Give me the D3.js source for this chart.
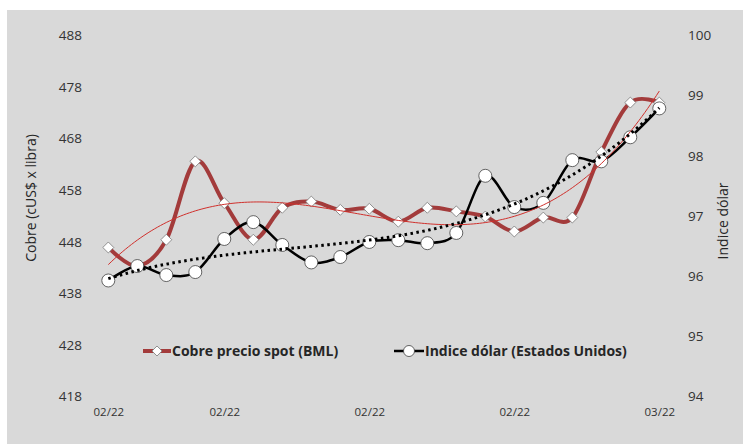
<!DOCTYPE html>
<html>
<head>
<meta charset="utf-8">
<script src="https://cdn.jsdelivr.net/npm/d3@7"></script>
<style>
  body { margin: 0; background: #fff; }
  text { font-family: "Open Sans", sans-serif; }
</style>
</head>
<body>
<div id="chart"></div>
<script>
// Daily values, Feb 2022
const cobre = [446.8, 443.2, 448.3, 463.5, 455.4, 448.3, 454.5, 455.7, 454.1, 454.3,
               451.8, 454.5, 453.8, 452.8, 449.9, 452.6, 452.6, 465.3, 474.9, 474.9];
const dolar = [95.92, 96.16, 96.01, 96.06, 96.61, 96.89, 96.51, 96.22, 96.31, 96.56,
               96.59, 96.54, 96.71, 97.66, 97.14, 97.21, 97.92, 97.90, 98.30, 98.78];
const xTickIdx = [0, 4, 9, 14, 19];
const xTickLabels = ["02/22", "02/22", "02/22", "02/22", "03/22"];
const leftTicks = [418, 428, 438, 448, 458, 468, 478, 488];
const rightTicks = [94, 95, 96, 97, 98, 99, 100];

const W = 743, H = 444;
const svg = d3.select("#chart").append("svg").attr("width", W).attr("height", H);

// chart area background
svg.append("rect").attr("x", 7).attr("y", 10).attr("width", W - 7).attr("height", H - 10)
    .attr("fill", "#d9d9d9");

const idx = d3.range(cobre.length);
const x = d3.scalePoint().domain(idx).range([108.3, 659.3]);
const yL = d3.scaleLinear().domain([418, 488]).range([396, 35]);
const yR = d3.scaleLinear().domain([94, 100]).range([396, 35]);

// least squares polynomial trend (like the spreadsheet trendline)
function polyFit(ys, order) {
    const n = order + 1;
    const A = d3.range(n).map(() => new Array(n + 1).fill(0));
    ys.forEach((y, t) => {
        const tt = t + 1;
        for (let i = 0; i < n; i++) {
            for (let j = 0; j < n; j++) A[i][j] += Math.pow(tt, i + j);
            A[i][n] += y * Math.pow(tt, i);
        }
    });
    for (let c = 0; c < n; c++) {
        let p = c;
        for (let r = c + 1; r < n; r++) if (Math.abs(A[r][c]) > Math.abs(A[p][c])) p = r;
        [A[c], A[p]] = [A[p], A[c]];
        for (let r = 0; r < n; r++) {
            if (r === c) continue;
            const f = A[r][c] / A[c][c];
            for (let k = c; k <= n; k++) A[r][k] -= f * A[c][k];
        }
    }
    const coef = A.map((row, i) => row[n] / row[i]);
    return t => coef.reduce((s, c, i) => s + c * Math.pow(t + 1, i), 0);
}

// axes
const axL = svg.append("g").attr("transform", "translate(82,0)")
    .call(d3.axisLeft(yL).tickValues(leftTicks).tickSize(0).tickPadding(0)
        .tickFormat(d3.format("d")));
const axR = svg.append("g").attr("transform", "translate(688,0)")
    .call(d3.axisRight(yR).tickValues(rightTicks).tickSize(0).tickPadding(0)
        .tickFormat(d3.format("d")));
const axB = svg.append("g").attr("transform", "translate(0,0)")
    .call(d3.axisBottom(x).tickValues(xTickIdx).tickSize(0).tickPadding(0)
        .tickFormat((d, i) => xTickLabels[i]));
[axL, axR, axB].forEach(g => {
    g.select(".domain").remove();
    g.selectAll("text").style("font-family", "Open Sans").attr("fill", "#333");
});
axL.selectAll("text").style("font-size", "13.5px").attr("dy", "0.35em");
axR.selectAll("text").style("font-size", "13.5px").attr("dy", "0.35em");
axB.selectAll("text").style("font-size", "11.5px").attr("y", 412).attr("dy", "0.35em");

// axis titles
svg.append("text").attr("transform", "translate(31,198) rotate(-90)")
    .attr("text-anchor", "middle").attr("dy", "0.35em")
    .style("font-size", "14px").attr("fill", "#262626").text("Cobre (cUS$ x libra)");
svg.append("text").attr("transform", "translate(723,221) rotate(-90)")
    .attr("text-anchor", "middle").attr("dy", "0.35em")
    .style("font-size", "14px").attr("fill", "#262626").text("Indice dólar");

const cobreColor = "#a33b3b";

// copper series
svg.append("path").datum(idx)
    .attr("fill", "none").attr("stroke", cobreColor).attr("stroke-width", 4)
    .attr("d", d3.line().x(i => x(i)).y(i => yL(cobre[i])).curve(d3.curveCardinal.tension(0)));
svg.selectAll(".dia").data(idx).enter().append("path")
    .attr("class", "dia")
    .attr("transform", i => `translate(${x(i)},${yL(cobre[i])}) rotate(45)`)
    .attr("d", d3.symbol(d3.symbolSquare, 60))
    .attr("fill", "#fff").attr("stroke", "#808080").attr("stroke-width", 0.8);

// dollar series
svg.append("path").datum(idx)
    .attr("fill", "none").attr("stroke", "#000").attr("stroke-width", 2.5)
    .attr("d", d3.line().x(i => x(i)).y(i => yR(dolar[i])).curve(d3.curveCardinal.tension(0)));
svg.selectAll(".dot").data(idx).enter().append("circle")
    .attr("class", "dot")
    .attr("cx", i => x(i)).attr("cy", i => yR(dolar[i])).attr("r", 6.5)
    .attr("fill", "#fff").attr("stroke", "#404040").attr("stroke-width", 0.8);

// trend lines
const fine = d3.range(0, cobre.length - 1 + 0.001, 0.1);
const xc = d3.scaleLinear().domain([0, cobre.length - 1]).range(x.range());
const trendC = polyFit(cobre, 3);
const trendD = polyFit(dolar, 3);
svg.append("path").datum(fine)
    .attr("fill", "none").attr("stroke", "#d0302c").attr("stroke-width", 1)
    .attr("d", d3.line().x(t => xc(t)).y(t => yL(trendC(t))));
svg.append("path").datum(fine)
    .attr("fill", "none").attr("stroke", "#000").attr("stroke-width", 3)
    .attr("stroke-dasharray", "2.5 3.5")
    .attr("d", d3.line().x(t => xc(t)).y(t => yR(trendD(t))));

// legend
const lg = svg.append("g");
lg.append("line").attr("x1", 143).attr("x2", 171).attr("y1", 351).attr("y2", 351)
    .attr("stroke", cobreColor).attr("stroke-width", 4);
lg.append("path").attr("transform", "translate(157,351) rotate(45)")
    .attr("d", d3.symbol(d3.symbolSquare, 50))
    .attr("fill", "#fff").attr("stroke", "#808080").attr("stroke-width", 0.8);
lg.append("text").attr("x", 172).attr("y", 351).attr("dy", "0.35em")
    .style("font-size", "14px").style("font-weight", "bold").attr("fill", "#262626")
    .text("Cobre precio spot (BML)");
lg.append("line").attr("x1", 394).attr("x2", 424).attr("y1", 351).attr("y2", 351)
    .attr("stroke", "#000").attr("stroke-width", 2.5);
lg.append("circle").attr("cx", 409).attr("cy", 351).attr("r", 5.5)
    .attr("fill", "#fff").attr("stroke", "#404040").attr("stroke-width", 0.8);
lg.append("text").attr("x", 425).attr("y", 351).attr("dy", "0.35em")
    .style("font-size", "14px").style("font-weight", "bold").attr("fill", "#262626")
    .text("Indice dólar (Estados Unidos)");
</script>
</body>
</html>
